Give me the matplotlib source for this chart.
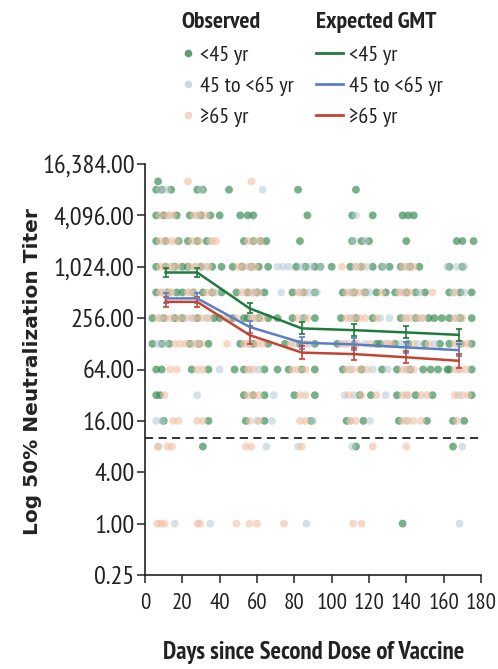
import matplotlib
matplotlib.use("Agg")
import matplotlib.pyplot as plt
from matplotlib.lines import Line2D
from matplotlib.ticker import FixedLocator, FuncFormatter, NullLocator

NARROW = ['PT Sans Narrow', 'DejaVu Sans']
plt.rcParams['font.family'] = NARROW

# ---------------- data ----------------
groups = ['<45 yr', '45 to <65 yr', '\u226565 yr']

# observed titers: row value -> list of days
obs_lt45 = {
    10240: [7],
    8192: [6, 9, 14, 28, 31, 45, 82, 113],
    4096: [6, 10, 17, 24, 30, 35, 40, 51, 55, 58, 87, 111, 122, 138, 141, 144],
    2048: [6, 11, 18, 23, 28, 33, 53, 58, 62, 65, 83, 111, 116, 120, 140, 167, 170, 176],
    1024: [6, 11, 16, 20, 23, 30, 36, 41, 47, 52, 57, 61, 66, 81, 86, 91, 94, 100,
           110, 116, 122, 127, 131, 137, 142, 147, 163, 170],
    512: [6, 12, 17, 20, 26, 31, 36, 41, 49, 55, 60, 64, 79, 85, 91, 106, 112, 118,
          124, 129, 134, 140, 145, 150, 163, 169, 175],
    256: [4, 10, 16, 20, 28, 37, 40, 47, 53, 55, 61, 66, 71, 79, 85, 91, 105, 113,
          122, 137, 145, 152, 155, 159, 163, 169, 175],
    128: [4, 9, 13, 24, 29, 34, 51, 58, 66, 75, 83, 91, 103, 112, 124, 126, 134, 141,
          150, 158, 163, 169, 175],
    64: [6, 9, 25, 34, 48, 53, 64, 71, 77, 84, 91, 106, 116, 127, 135, 142, 149, 153,
         157, 162, 163, 175],
    32: [6, 8, 53, 58, 64, 80, 91, 115, 121, 135, 145, 154, 175],
    16: [10, 34, 54, 64, 89, 108, 117, 136, 151, 165, 171],
    8: [31, 113, 165],
    1: [138],
}
obs_45to65 = {
    8192: [8, 12, 30, 63],
    4096: [13, 28, 113],
    2048: [35, 112, 118],
    1024: [14, 27, 33, 56, 71, 74, 77, 84, 89, 94, 113, 119, 128, 140, 162, 167, 171],
    512: [9, 14, 24, 38, 58, 73, 83, 88, 92, 110, 120, 137, 147, 165, 171],
    256: [8, 25, 33, 43, 58, 85, 110, 126, 131, 140, 148, 167],
    128: [7, 11, 28, 55, 80, 88, 107, 118, 130, 137, 146, 155, 168],
    64: [40, 56, 61, 110, 122, 130, 140, 168],
    32: [28, 69, 107, 112, 129, 140, 168],
    16: [6, 9, 60, 68, 90, 110, 120.5, 140],
    8: [7, 65, 82, 111, 170],
    1: [16, 35, 86.5, 168.5],
}
obs_ge65 = {
    10240: [23, 57],
    4096: [8, 12, 15, 26, 29, 33],
    2048: [8, 11, 14, 17, 25, 29, 36, 38, 55, 59, 62],
    1024: [8, 11, 14, 17, 24, 27, 30, 34, 50, 53, 56, 59, 105.5, 113, 116, 138, 141, 144],
    512: [8, 11, 14, 23, 26, 33, 36, 52, 55, 58, 61, 82, 85, 108, 111, 114, 117, 127,
          136, 139, 142, 154, 166],
    256: [7, 11, 14, 18, 22, 26, 30, 34, 44, 49, 57, 60, 63, 82, 87, 108, 111, 115, 118,
          124, 139, 142, 146, 149, 166, 170],
    128: [16, 19, 22, 26, 30, 44, 53, 56, 60, 63, 78, 86, 105, 109, 114, 121, 129, 132,
          144, 152, 166, 170, 173],
    64: [13.5, 17, 28, 31, 55, 58, 79, 82, 86, 108, 111, 115, 119, 138, 141, 144, 166,
         169, 172],
    32: [10.5, 55, 58, 61, 83, 86, 109, 116, 124, 138, 141, 148, 151, 166, 170, 173],
    16: [15, 18, 28, 31, 56, 61, 83, 86, 110, 113, 138, 141, 144, 148, 167],
    8: [7, 12, 14.5, 54, 57, 84, 122, 140],
    1: [6.5, 8.5, 10.5, 28, 29.5, 49, 56, 60, 74.5, 111.5, 116],
}

gmt_days = [11, 28, 56, 84, 112, 140, 168]
gmt_lt45 = [877, 877, 333, 194, 185, 174, 163]
lo_lt45 = [787, 787, 291, 165, 157, 148, 139]
hi_lt45 = [977, 977, 381, 228, 218, 205, 192]
gmt_45to65 = [436, 436, 202, 132, 126, 116, 108]
lo_45to65 = [381, 381, 172, 112, 107, 99, 92]
hi_45to65 = [499, 499, 238, 155, 148, 136, 127]
gmt_ge65 = [397, 397, 162, 101, 97, 89, 81]
lo_ge65 = [347, 347, 127, 84, 82, 76, 67]
hi_ge65 = [454, 454, 206, 122, 114, 105, 98]

lloq = 10
y_ticks = [0.25, 1, 4, 16, 64, 256, 1024, 4096, 16384]
x_ticks = [0, 20, 40, 60, 80, 100, 120, 140, 160, 180]

# ---------------- style ----------------
obs_colors = ['#3f8f57', '#b5c9d3', '#efbea3']
obs_alpha = [0.7, 0.55, 0.6]
line_colors = ['#1f7a3d', '#5b7ec6', '#c44433']
leg_obs_colors = ['#5c9e70', '#cdd9df', '#f3d6c6']
INK = '#222222'

fig = plt.figure(figsize=(4.98, 6.69), dpi=100)
ax = fig.add_axes([145 / 498, 94 / 669, 336 / 498, 411 / 669])

for obs, col, a in zip([obs_lt45, obs_45to65, obs_ge65], obs_colors, obs_alpha):
    xs, ys = [], []
    for val, days in obs.items():
        xs.extend(days)
        ys.extend([val] * len(days))
    ax.scatter(xs, ys, s=32, color=col, alpha=a, edgecolors='none', zorder=2)

ax.axhline(lloq, color=INK, lw=1.3, ls=(0, (4.5, 3)), zorder=3)

for g, lo, hi, col in zip([gmt_lt45, gmt_45to65, gmt_ge65],
                          [lo_lt45, lo_45to65, lo_ge65],
                          [hi_lt45, hi_45to65, hi_ge65], line_colors):
    yerr = [[m - l for m, l in zip(g, lo)], [h - m for m, h in zip(g, hi)]]
    ax.errorbar(gmt_days, g, yerr=yerr, color=col, lw=1.8, elinewidth=1.2,
                capsize=2.2, capthick=1.2, zorder=5)

ax.set_yscale('log', base=2)
ax.set_ylim(0.25, 16384)
ax.set_xlim(0, 180)
ax.yaxis.set_major_locator(FixedLocator(y_ticks))
ax.yaxis.set_minor_locator(NullLocator())
ax.yaxis.set_major_formatter(FuncFormatter(lambda v, p: '{:,.2f}'.format(v)))
ax.set_xticks(x_ticks)
ax.spines['top'].set_visible(False)
ax.spines['right'].set_visible(False)
for s in ['left', 'bottom']:
    ax.spines[s].set_linewidth(1.2)
    ax.spines[s].set_color(INK)
ax.tick_params(axis='both', direction='out', length=6, width=1.1, colors=INK,
               labelcolor=INK)
ax.tick_params(axis='x', pad=7, labelsize=16.5)
ax.tick_params(axis='y', pad=1.5, labelsize=19)

fig.text(33 / 498, 1 - 372 / 669, 'Log 50% Neutralization Titer', rotation=90,
         ha='center', va='center', fontsize=14.5, fontweight='bold',
         family=['DejaVu Sans'], color=INK)
fig.text(314 / 498, 1 - 652 / 669, 'Days since Second Dose of Vaccine',
         ha='center', va='center', fontsize=17.8, fontweight='bold', color=INK)

# legends
obs_handles = [Line2D([], [], ls='none', marker='o', ms=5.5, mfc=c, mec='none')
               for c in leg_obs_colors]
line_handles = [Line2D([], [], color=c, lw=2) for c in line_colors]
common = dict(loc='upper left', frameon=False, fontsize=16,
              title_fontproperties={'weight': 'bold', 'size': 17},
              labelspacing=0.52, alignment='left',
              borderaxespad=0, borderpad=0)
leg1 = fig.legend(obs_handles, groups, title='Observed',
                  bbox_to_anchor=(181 / 498, 1 - 12 / 669), handlelength=0.6,
                  handletextpad=0.25, **common)
leg2 = fig.legend(line_handles, groups, title='Expected GMT',
                  bbox_to_anchor=(316 / 498, 1 - 12 / 669), handlelength=1.2,
                  handletextpad=0.3, **common)
for leg in (leg1, leg2):
    for t in leg.get_texts():
        t.set_color(INK)
    leg.get_title().set_color(INK)
    leg._legend_box.sep = 9

fig.savefig('out.png', dpi=100, facecolor='white')
